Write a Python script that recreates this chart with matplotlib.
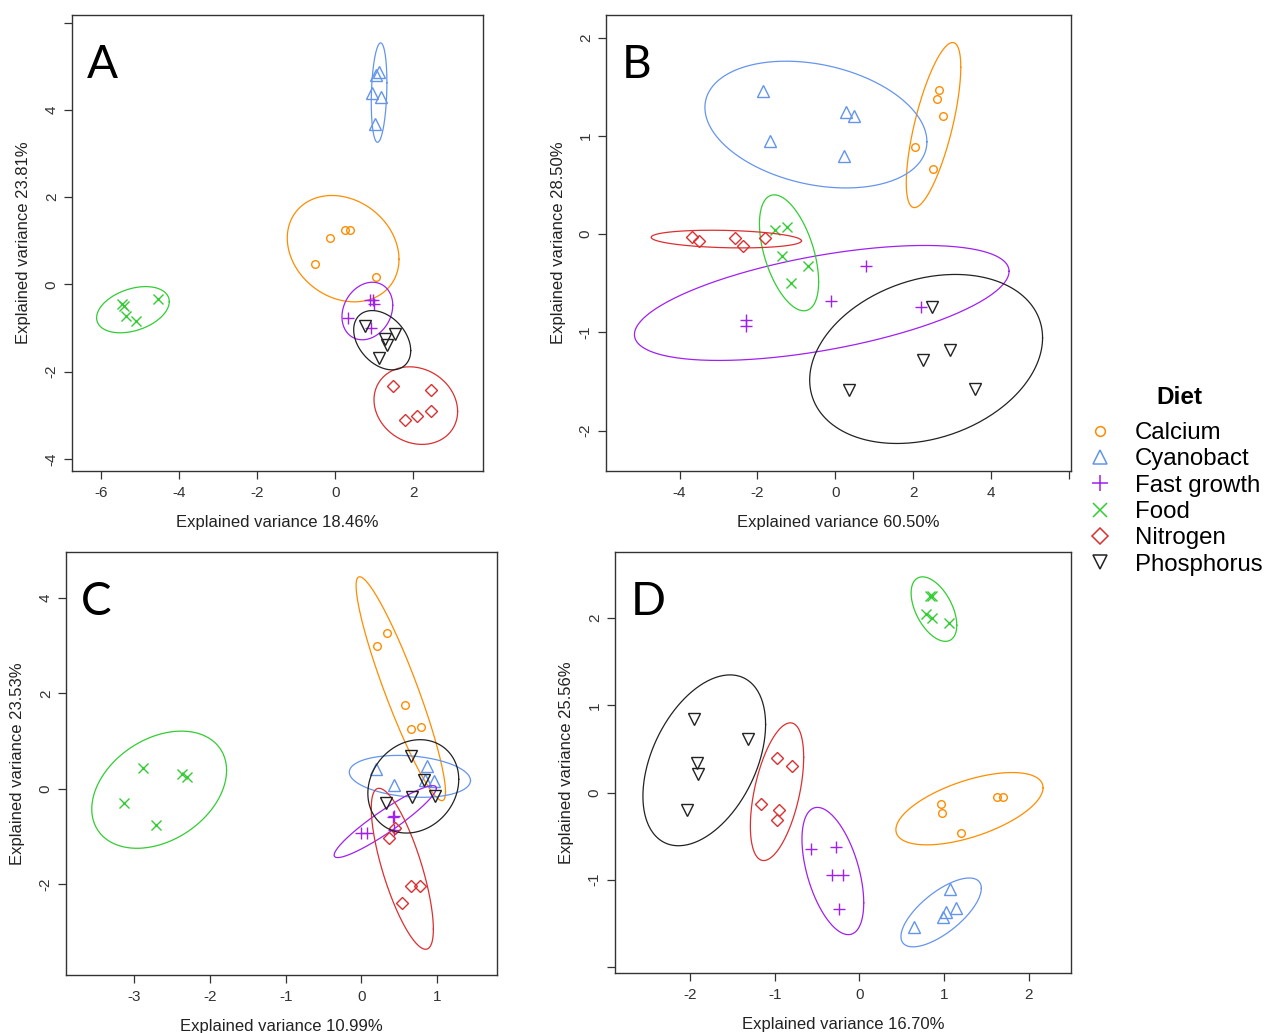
import numpy as np
import matplotlib
matplotlib.use('Agg')
import matplotlib.pyplot as plt
from matplotlib.lines import Line2D

plt.rcParams['font.family'] = ['Liberation Sans', 'DejaVu Sans']

W, H = 1266, 1033

diets = ['Calcium', 'Cyanobact', 'Fast growth', 'Food', 'Nitrogen', 'Phosphorus']
colors = ['#FF8C00', '#6495ED', '#A020F0', '#32CD32', '#DC2F2F', '#222222']
markers = ['o', '^', '+', 'x', 'D', 'v']
msizes = [5.5, 8.5, 8.5, 7, 6.5, 8.5]
leg_sizes = [7, 10.5, 12, 9.5, 8.5, 10]

# ---- panel A: scores (x, y) per diet ----
a_x = {'Calcium': [-0.52, -0.13, 0.24, 0.38, 1.03],
       'Cyanobact': [1.12, 1.05, 0.95, 1.17, 1.02],
       'Fast growth': [0.32, 0.88, 0.97, 1.0, 0.92],
       'Food': [-5.45, -5.41, -5.37, -5.09, -4.55],
       'Nitrogen': [1.48, 2.45, 1.79, 2.1, 2.46],
       'Phosphorus': [0.76, 1.28, 1.53, 1.33, 1.12]}
a_y = {'Calcium': [0.46, 1.07, 1.25, 1.25, 0.17],
       'Cyanobact': [4.88, 4.8, 4.4, 4.3, 3.68],
       'Fast growth': [-0.76, -0.36, -0.36, -0.45, -0.99],
       'Food': [-0.44, -0.5, -0.72, -0.84, -0.33],
       'Nitrogen': [-2.34, -2.43, -3.12, -3.01, -2.9],
       'Phosphorus': [-0.96, -1.25, -1.13, -1.4, -1.68]}
# ellipses: centre x, centre y, half width, half height, correlation
a_ell = {'Calcium': (0.2, 0.82, 1.43, 1.22, -0.2),
         'Cyanobact': (1.12, 4.4, 0.2, 1.14, 0.2),
         'Fast growth': (0.82, -0.61, 0.65, 0.66, 0.2),
         'Food': (-5.18, -0.58, 0.93, 0.53, 0.35),
         'Nitrogen': (2.06, -2.78, 1.07, 0.89, -0.15),
         'Phosphorus': (1.2, -1.28, 0.73, 0.68, -0.35)}

# ---- panel B ----
b_x = {'Calcium': [2.66, 2.6, 2.76, 2.05, 2.51],
       'Cyanobact': [-1.87, -1.67, 0.28, 0.49, 0.22],
       'Fast growth': [-2.29, -2.29, -0.12, 0.78, 2.2],
       'Food': [-1.54, -1.23, -1.36, -0.71, -1.14],
       'Nitrogen': [-3.69, -3.49, -2.57, -2.36, -1.8],
       'Phosphorus': [2.48, 2.94, 2.26, 0.34, 3.59]}
b_y = {'Calcium': [1.47, 1.38, 1.2, 0.89, 0.66],
       'Cyanobact': [1.46, 0.95, 1.24, 1.2, 0.8],
       'Fast growth': [-0.87, -0.93, -0.68, -0.32, -0.74],
       'Food': [0.04, 0.07, -0.22, -0.32, -0.5],
       'Nitrogen': [-0.03, -0.07, -0.035, -0.12, -0.035],
       'Phosphorus': [-0.74, -1.18, -1.28, -1.59, -1.58]}
b_ell = {'Calcium': (2.52, 1.11, 0.7, 0.84, 0.7),
         'Cyanobact': (-0.5, 1.115, 2.85, 0.645, -0.27),
         'Fast growth': (-0.35, -0.7, 4.81, 0.585, 0.55),
         'Food': (-1.19, -0.19, 0.76, 0.59, -0.5),
         'Nitrogen': (-2.8, -0.05, 1.93, 0.09, -0.2),
         'Phosphorus': (2.33, -1.27, 2.99, 0.86, 0.25)}

# ---- panel C ----
c_x = {'Calcium': [0.2, 0.34, 0.58, 0.65, 0.79],
       'Cyanobact': [0.19, 0.43, 0.86, 0.96, 0.84],
       'Fast growth': [-0.01, 0.07, 0.43, 0.43, 0.42],
       'Food': [-3.14, -2.89, -2.37, -2.3, -2.71],
       'Nitrogen': [0.44, 0.36, 0.65, 0.77, 0.54],
       'Phosphorus': [0.65, 0.83, 0.67, 0.33, 0.97]}
c_y = {'Calcium': [2.99, 3.26, 1.75, 1.25, 1.29],
       'Cyanobact': [0.41, 0.08, 0.48, 0.17, 0.19],
       'Fast growth': [-0.93, -0.93, -0.57, -0.86, -0.6],
       'Food': [-0.3, 0.43, 0.31, 0.25, -0.76],
       'Nitrogen': [-0.83, -1.04, -2.05, -2.05, -2.39],
       'Phosphorus': [0.68, 0.18, -0.18, -0.3, -0.16]}
c_ell = {'Calcium': (0.52, 2.1, 0.59, 2.35, -0.92),
         'Cyanobact': (0.64, 0.26, 0.8, 0.44, -0.2),
         'Fast growth': (0.315, -0.69, 0.675, 0.755, 0.93),
         'Food': (-2.67, -0.02, 0.89, 1.23, 0.33),
         'Nitrogen': (0.54, -1.68, 0.41, 1.69, -0.75),
         'Phosphorus': (0.685, 0.05, 0.6, 0.98, 0.15)}

# ---- panel D ----
d_x = {'Calcium': [1.63, 1.7, 0.96, 0.97, 1.2],
       'Cyanobact': [1.07, 1.14, 1.02, 0.99, 0.64],
       'Fast growth': [-0.57, -0.28, -0.33, -0.2, -0.24],
       'Food': [0.83, 0.86, 0.79, 0.86, 1.06],
       'Nitrogen': [-0.97, -0.8, -1.17, -0.95, -0.97],
       'Phosphorus': [-1.96, -1.32, -1.92, -1.91, -2.04]}
d_y = {'Calcium': [-0.05, -0.05, -0.13, -0.23, -0.46],
       'Cyanobact': [-1.11, -1.33, -1.37, -1.43, -1.54],
       'Fast growth': [-0.65, -0.62, -0.95, -0.95, -1.34],
       'Food': [2.26, 2.26, 2.05, 2.0, 1.94],
       'Nitrogen': [0.4, 0.31, -0.13, -0.2, -0.32],
       'Phosphorus': [0.84, 0.62, 0.34, 0.21, -0.2]}
d_ell = {'Calcium': (1.3, -0.185, 0.87, 0.415, 0.58),
         'Cyanobact': (0.965, -1.375, 0.475, 0.395, 0.7),
         'Fast growth': (-0.315, -0.9, 0.365, 0.73, -0.5),
         'Food': (0.88, 2.105, 0.27, 0.37, -0.5),
         'Nitrogen': (-0.975, 0.01, 0.315, 0.79, 0.5),
         'Phosphorus': (-1.835, 0.37, 0.725, 0.98, 0.42)}

panels = [
    # letter, xs, ys, ellipses, xlabel, ylabel, xlim, ylim, xticks, yticks, box in pixels
    ('A', a_x, a_y, a_ell, 'Explained variance 18.46%', 'Explained variance 23.81%',
     (-6.74, 3.78), (-4.28, 6.18), [-6, -4, -2, 0, 2], [-4, -2, 0, 2, 4, 6], (72, 15, 483, 471)),
    ('B', b_x, b_y, b_ell, 'Explained variance 60.50%', 'Explained variance 28.50%',
     (-5.89, 6.05), (-2.41, 2.23), [-4, -2, 0, 2, 4, 6], [-2, -1, 0, 1, 2], (606, 15, 1071, 471)),
    ('C', c_x, c_y, c_ell, 'Explained variance 10.99%', 'Explained variance 23.53%',
     (-3.90, 1.79), (-3.91, 4.97), [-3, -2, -1, 0, 1], [-2, 0, 2, 4], (66, 552, 497, 975)),
    ('D', d_x, d_y, d_ell, 'Explained variance 16.70%', 'Explained variance 25.56%',
     (-2.89, 2.50), (-2.07, 2.76), [-2, -1, 0, 1, 2], [-2, -1, 0, 1, 2], (615, 552, 1071, 973)),
]
# ticks drawn without a label (clipped in the original figure)
unlabeled = {'A': (None, 6), 'B': (6, None), 'C': (None, None), 'D': (None, -2)}

fig = plt.figure(figsize=(W / 100, H / 100), dpi=100)
t = np.linspace(0, 2 * np.pi, 300)

for letter, xs, ys, ells, xlab, ylab, xlim, ylim, xt, yt, box in panels:
    l, tp, r, b = box
    ax = fig.add_axes([l / W, 1 - b / H, (r - l) / W, (b - tp) / H])
    for i, diet in enumerate(diets):
        ax.plot(xs[diet], ys[diet], linestyle='none', marker=markers[i],
                ms=msizes[i], mfc='none', mec=colors[i], mew=1.0)
        cx, cy, rx, ry, rho = ells[diet]
        ax.plot(cx + rx * np.cos(t), cy + ry * np.cos(t - np.arccos(rho)),
                color=colors[i], lw=0.9)
    ax.set_xlim(*xlim)
    ax.set_ylim(*ylim)
    ux, uy = unlabeled[letter]
    ax.set_xticks(xt)
    ax.set_xticklabels(['' if v == ux else str(v) for v in xt])
    ax.set_yticks(yt)
    ax.set_yticklabels(['' if v == uy else str(v) for v in yt])
    ax.tick_params(length=5.5, width=0.9, color='#333333', labelsize=11,
                   labelcolor='#333333', pad=5)
    ax.tick_params(axis='y', labelrotation=90, pad=4)
    for lab in ax.get_yticklabels():
        lab.set_va('center')
    for s in ax.spines.values():
        s.set_color('#333333')
        s.set_linewidth(1.0)
    wpx, hpx = r - l, b - tp
    ax.set_xlabel(xlab, fontsize=12, color='#222222', va='center')
    ax.xaxis.set_label_coords(0.5, -52 / hpx)
    ax.set_ylabel(ylab, fontsize=12, color='#222222', va='center')
    ax.yaxis.set_label_coords(-48 / wpx, 0.5)
    ax.annotate(letter, xy=(0, 1), xycoords='axes fraction', xytext=(11, -21),
                textcoords='offset points', ha='left', va='top',
                fontsize=33, family='Lato')

# legend for the diets
fig.text(1179 / W, 1 - 397 / H, 'Diet', fontsize=17.5, fontweight='bold',
         ha='center', va='center')
handles = [Line2D([], [], linestyle='none', marker=markers[i], ms=leg_sizes[i],
                  mfc='none', mec=colors[i], mew=1.1) for i in range(len(diets))]
leg = fig.legend(handles, diets, loc='upper left', bbox_to_anchor=(1088 / W, 1 - 422 / H),
                 frameon=False, fontsize=17.3, labelspacing=0.18,
                 handletextpad=0.95, handlelength=1.0, borderpad=0, borderaxespad=0)

fig.savefig('out.png', dpi=100)
